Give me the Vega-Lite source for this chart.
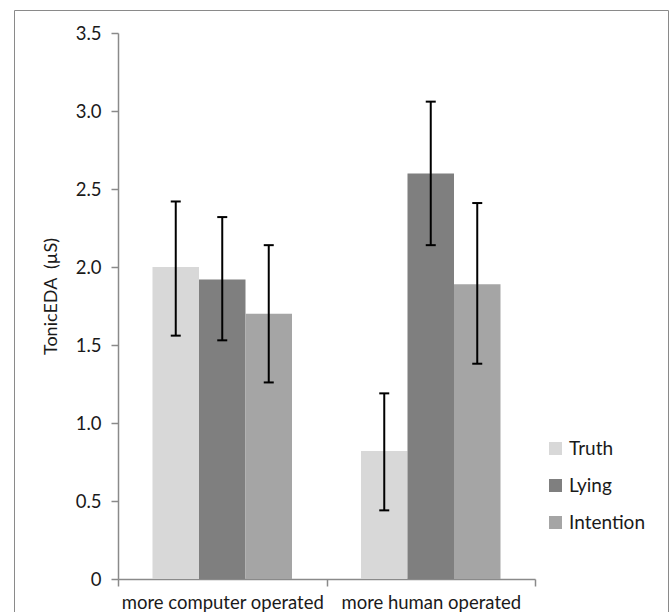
{
  "$schema": "https://vega.github.io/schema/vega-lite/v6.json",
  "width": 654,
  "height": 602,
  "autosize": {"type": "none"},
  "padding": {"left": 14, "top": 10, "right": 1, "bottom": 0},
  "background": "white",
  "config": {
    "font": "Lato",
    "view": {"stroke": "#8a8a8a", "strokeWidth": 1}
  },
  "data": {
    "values": [
      {"condition": "more computer operated", "group": "Truth", "mean": 2.00, "lo": 1.56, "hi": 2.42},
      {"condition": "more computer operated", "group": "Lying", "mean": 1.92, "lo": 1.53, "hi": 2.32},
      {"condition": "more computer operated", "group": "Intention", "mean": 1.70, "lo": 1.26, "hi": 2.14},
      {"condition": "more human operated", "group": "Truth", "mean": 0.82, "lo": 0.44, "hi": 1.19},
      {"condition": "more human operated", "group": "Lying", "mean": 2.60, "lo": 2.14, "hi": 3.06},
      {"condition": "more human operated", "group": "Intention", "mean": 1.89, "lo": 1.38, "hi": 2.41}
    ]
  },
  "encoding": {
    "x": {
      "field": "condition",
      "type": "nominal",
      "sort": ["more computer operated", "more human operated"],
      "scale": {"range": [104, 521], "paddingInner": 0, "paddingOuter": 0},
      "axis": {
        "offset": -33,
        "title": null,
        "labelAngle": 0,
        "labelLimit": 0,
        "tickBand": "extent",
        "domainColor": "#8a8a8a",
        "tickColor": "#8a8a8a",
        "domainWidth": 1.5,
        "tickWidth": 1.5,
        "tickSize": 7,
        "labelFontSize": 18.5,
        "labelColor": "#1a1a1a",
        "labelPadding": 7
      }
    },
    "xOffset": {
      "field": "group",
      "type": "nominal",
      "sort": ["Truth", "Lying", "Intention"],
      "scale": {"paddingInner": 0, "paddingOuter": 0.742}
    }
  },
  "layer": [
    {
      "mark": {"type": "bar"},
      "encoding": {
        "y": {
          "field": "mean",
          "type": "quantitative",
          "title": "TonicEDA\u00a0\u00a0(µS)",
          "scale": {"domain": [0, 3.5], "range": [569, 23], "nice": false},
          "axis": {
            "offset": -104,
            "values": [0, 0.5, 1, 1.5, 2, 2.5, 3, 3.5],
            "labelExpr": "datum.value === 0 ? '0' : format(datum.value, '.1f')",
            "grid": false,
            "domainColor": "#8a8a8a",
            "tickColor": "#8a8a8a",
            "domainWidth": 1.5,
            "tickWidth": 1.5,
            "tickSize": 7,
            "labelFontSize": 18.5,
            "labelColor": "#1a1a1a",
            "labelPadding": 10,
            "titleFontSize": 18,
            "titleFontWeight": "normal",
            "titleColor": "#1a1a1a",
            "titlePadding": 15,
            "titleY": 286
          }
        },
        "color": {
          "field": "group",
          "type": "nominal",
          "sort": ["Truth", "Lying", "Intention"],
          "scale": {"domain": ["Truth", "Lying", "Intention"], "range": ["#d8d8d8", "#7f7f7f", "#a5a5a5"]},
          "legend": {
            "orient": "none",
            "legendX": 532,
            "legendY": 429,
            "title": null,
            "symbolType": "square",
            "symbolSize": 169,
            "symbolStrokeWidth": 0,
            "symbolOpacity": 1,
            "labelFontSize": 19,
            "labelColor": "#1a1a1a",
            "labelOffset": 4,
            "rowPadding": 17
          }
        }
      }
    },
    {
      "mark": {"type": "rule", "color": "black", "strokeWidth": 2},
      "encoding": {
        "y": {"field": "lo", "type": "quantitative", "title": "TonicEDA\u00a0\u00a0(µS)"},
        "y2": {"field": "hi"}
      }
    },
    {
      "mark": {"type": "tick", "color": "black", "thickness": 2, "size": 10, "opacity": 1},
      "encoding": {
        "y": {"field": "lo", "type": "quantitative", "title": "TonicEDA\u00a0\u00a0(µS)"}
      }
    },
    {
      "mark": {"type": "tick", "color": "black", "thickness": 2, "size": 10, "opacity": 1},
      "encoding": {
        "y": {"field": "hi", "type": "quantitative", "title": "TonicEDA\u00a0\u00a0(µS)"}
      }
    }
  ]
}
